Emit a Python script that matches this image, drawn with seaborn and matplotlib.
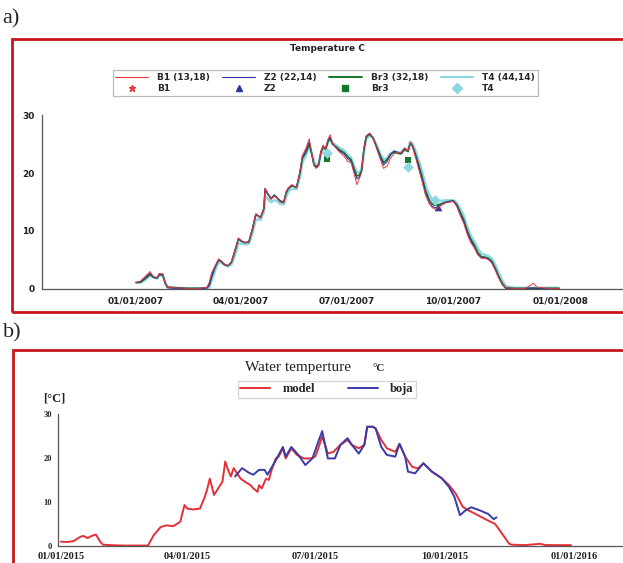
import pandas as pd
import matplotlib
matplotlib.use('Agg')
import matplotlib.pyplot as plt
import matplotlib.dates as mdates
from matplotlib.patches import Rectangle
from matplotlib.lines import Line2D
import seaborn as sns

# panel a) - 2007, day of year from 01/01/2007
days_a = [0, 4, 8, 12, 15, 18, 20, 23, 25, 27,
          35, 45, 55, 61, 63, 65, 68, 71, 73, 76,
          79, 82, 85, 88, 91, 94, 97, 100, 103, 105,
          107, 110, 111, 113, 116, 119, 121, 124, 127, 129,
          131, 134, 138, 141, 143, 146, 149, 151, 153, 155,
          157, 159, 161, 163, 165, 167, 169, 172, 175, 179,
          182, 185, 188, 190, 192, 194, 196, 198, 201, 204,
          207, 210, 213, 216, 219, 222, 225, 228, 231, 234,
          236, 238, 240, 243, 246, 249, 252, 255, 258, 261,
          264, 267, 270, 273, 276, 279, 282, 285, 288, 291,
          294, 297, 300, 303, 306, 309, 312, 315, 318, 325,
          335, 342, 345, 355, 364]

b1 = [1.1, 1.4, 2.2, 3.0, 2.1, 2.0, 2.7, 2.6, 1.0, 0.3,
      0.2, 0.1, 0.1, 0.3, 1.2, 2.8, 4.0, 5.2, 4.9, 4.3,
      4.0, 4.7, 6.6, 8.8, 8.3, 8.0, 8.2, 10.4, 13.0, 12.7,
      12.3, 14.0, 17.4, 16.6, 15.5, 16.0, 15.7, 15.0, 14.8, 16.8,
      17.5, 18.0, 17.5, 20.3, 23.0, 24.2, 25.9, 23.6, 21.3, 20.8,
      21.2, 23.8, 24.8, 24.0, 25.8, 26.6, 25.2, 24.3, 23.6, 22.9,
      22.0, 21.8, 19.6, 18.0, 19.0, 20.0, 24.3, 26.4, 26.9, 26.1,
      24.2, 22.4, 20.8, 21.2, 22.6, 23.3, 23.6, 23.5, 24.2, 23.8,
      25.3, 24.4, 23.0, 20.8, 18.6, 16.2, 14.8, 14.0, 13.7, 14.2,
      14.6, 14.9, 15.0, 15.1, 14.2, 12.6, 11.3, 9.4, 8.0, 7.1,
      5.9, 5.3, 5.3, 5.1, 4.5, 3.3, 1.9, 0.8, 0.2, 0.1,
      0.1, 1.0, 0.3, 0.1, 0.1]

z2 = [1.1, 1.3, 2.0, 2.7, 2.0, 1.9, 2.6, 2.5, 1.0, 0.2,
      0.1, 0.1, 0.1, 0.2, 0.6, 2.0, 3.9, 5.0, 4.8, 4.2,
      4.0, 4.6, 6.6, 8.7, 8.2, 8.0, 8.1, 10.3, 12.9, 12.6,
      12.3, 13.9, 17.3, 16.5, 15.5, 16.1, 15.8, 15.1, 14.9, 16.6,
      17.4, 17.9, 17.5, 20.1, 22.7, 23.8, 25.4, 23.4, 21.4, 20.9,
      21.3, 23.6, 24.7, 24.0, 25.5, 26.2, 25.0, 24.4, 23.8, 23.3,
      22.5, 22.0, 20.0, 19.0, 19.3, 20.2, 24.1, 26.3, 26.8, 26.0,
      24.4, 22.8, 21.4, 22.0, 23.2, 23.8, 23.6, 23.4, 24.3, 23.8,
      25.2, 24.5, 23.3, 21.2, 19.0, 16.6, 15.0, 14.2, 14.0, 14.3,
      14.7, 15.0, 15.1, 15.2, 14.4, 12.9, 11.6, 9.7, 8.3, 7.3,
      6.0, 5.4, 5.4, 5.2, 4.6, 3.4, 2.0, 0.8, 0.1, 0.1,
      0.1, 0.2, 0.1, 0.1, 0.1]

br3 = [1.1, 1.2, 1.8, 2.5, 2.0, 1.9, 2.5, 2.4, 1.0, 0.3,
       0.2, 0.1, 0.1, 0.2, 0.8, 2.2, 3.8, 5.0, 4.8, 4.2,
       4.0, 4.6, 6.5, 8.6, 8.2, 8.0, 8.1, 10.2, 12.8, 12.6,
       12.3, 13.9, 17.2, 16.5, 15.6, 16.2, 15.8, 15.2, 15.0, 16.5,
       17.3, 17.8, 17.5, 20.0, 22.5, 23.5, 25.0, 23.4, 21.5, 21.0,
       21.4, 23.5, 24.6, 24.0, 25.4, 26.0, 25.0, 24.5, 24.0, 23.5,
       22.8, 22.3, 20.5, 19.5, 19.6, 20.4, 24.0, 26.2, 26.7, 26.0,
       24.5, 23.0, 21.8, 22.3, 23.2, 23.6, 23.4, 23.3, 24.0, 23.7,
       25.2, 24.6, 23.5, 21.5, 19.4, 17.0, 15.5, 14.6, 14.4, 14.6,
       14.8, 15.0, 15.1, 15.2, 14.5, 13.2, 11.9, 10.0, 8.6, 7.6,
       6.3, 5.6, 5.5, 5.3, 4.8, 3.6, 2.2, 1.0, 0.2, 0.1,
       0.1, 0.1, 0.1, 0.1, 0.1]

t4 = [1.1, 1.1, 1.6, 2.3, 2.0, 1.8, 2.3, 2.3, 1.2, 0.4,
      0.2, 0.1, 0.1, 0.1, 0.3, 1.4, 3.2, 4.6, 4.6, 4.2,
      3.9, 4.2, 5.8, 7.9, 7.8, 7.7, 7.8, 9.5, 11.9, 12.0,
      11.9, 13.3, 16.0, 15.6, 15.0, 15.3, 15.2, 14.7, 14.6, 15.8,
      16.8, 17.3, 17.2, 19.3, 21.8, 23.0, 24.6, 23.6, 22.0, 21.3,
      21.5, 23.2, 24.3, 24.2, 25.2, 25.8, 25.2, 24.8, 24.3, 23.9,
      23.2, 22.6, 21.0, 20.2, 20.0, 20.6, 23.5, 25.9, 26.5, 26.0,
      24.8, 23.4, 22.3, 22.6, 23.4, 23.7, 23.5, 23.5, 24.2, 24.0,
      25.4, 25.0, 24.0, 22.3, 20.4, 18.0, 16.3, 15.4, 15.0, 15.2,
      15.2, 15.3, 15.3, 15.3, 14.9, 13.8, 12.6, 10.7, 9.2, 8.2,
      7.0, 6.1, 5.9, 5.7, 5.3, 4.2, 2.8, 1.5, 0.5, 0.2,
      0.2, 0.2, 0.2, 0.2, 0.2]

# measured points (markers)
b1_pts_days = [164, 234]
b1_pts = [22.4, 22.3]
z2_pts_days = [260]
z2_pts = [14.2]
br3_pts_days = [164, 234]
br3_pts = [22.4, 22.3]
t4_pts_days = [164, 234, 257]
t4_pts = [23.4, 21.1, 15.3]

# panel b) - 2015, day of year from 01/01/2015
days_model = [0, 4, 9, 14, 16, 19, 22, 25, 28, 30,
              35, 45, 55, 62, 66, 71, 75, 80, 85, 88,
              90, 94, 99, 102, 104, 106, 109, 112, 115, 117,
              119, 121, 123, 126, 128, 131, 135, 137, 140, 141,
              143, 146, 148, 150, 153, 155, 158, 160, 164, 168,
              173, 178, 181, 183, 186, 190, 194, 199, 204, 207,
              212, 216, 218, 222, 224, 228, 232, 238, 241, 245,
              250, 254, 258, 264, 271, 276, 281, 286, 290, 295,
              302, 309, 314, 319, 321, 330, 341, 345, 355, 363]
model = [1.0, 0.9, 1.1, 2.1, 2.3, 1.8, 2.3, 2.6, 1.0, 0.3,
         0.2, 0.1, 0.1, 0.1, 2.4, 4.3, 4.7, 4.5, 5.5, 9.3,
         8.5, 8.3, 8.5, 10.8, 12.7, 15.3, 11.6, 13.1, 14.6, 19.2,
         17.3, 15.8, 17.7, 16.2, 15.3, 14.6, 13.8, 13.1, 12.3, 13.8,
         13.1, 15.3, 15.0, 17.3, 19.9, 20.3, 22.2, 19.9, 22.2, 20.7,
         19.9, 19.9, 20.3, 22.0, 24.9, 21.0, 21.4, 23.0, 24.1, 23.0,
         22.2, 23.0, 27.1, 27.1, 26.7, 24.1, 22.2, 21.4, 23.2, 20.3,
         18.0, 17.6, 18.8, 16.9, 15.4, 13.9, 11.9, 8.9, 8.1, 7.3,
         6.1, 5.0, 2.8, 0.5, 0.3, 0.2, 0.5, 0.2, 0.2, 0.2]

days_boja = [124, 129, 134, 137, 141, 145, 147, 149, 153, 158,
             160, 164, 169, 174, 179, 184, 186, 190, 195, 199,
             204, 207, 212, 216, 218, 222, 224, 228, 232, 238,
             241, 245, 247, 252, 258, 264, 271, 276, 280, 284,
             288, 292, 298, 304, 308, 310]
boja = [15.8, 17.7, 16.6, 16.2, 17.3, 17.3, 16.2, 17.3, 19.5, 22.5,
        20.3, 22.5, 20.7, 18.4, 19.9, 24.4, 26.1, 19.9, 19.9, 23.0,
        24.5, 23.0, 21.0, 23.0, 27.1, 27.1, 26.7, 22.5, 20.7, 20.3,
        23.2, 20.3, 16.9, 16.5, 18.8, 16.9, 15.4, 13.5, 11.2, 7.0,
        8.1, 8.8, 8.1, 7.3, 6.1, 6.5]


def to_dates(start, days):
    return pd.Timestamp(start) + pd.to_timedelta(days, unit='D')


sns.set_style('white')
frame_red = '#c4161c'

fig = plt.figure(figsize=(6.23, 5.63), dpi=100)

# ---------- a) ----------
ax1 = fig.add_axes([0.0674, 0.4867, 0.9326, 0.309])
da = to_dates('2007-01-01', days_a)
sns.lineplot(x=da, y=t4, ax=ax1, color='#8ed6e0', lw=1.8, estimator=None)
sns.lineplot(x=da, y=br3, ax=ax1, color='#16782c', lw=1.2, estimator=None)
sns.lineplot(x=da, y=z2, ax=ax1, color='#2a35a0', lw=0.8, estimator=None)
sns.lineplot(x=da, y=b1, ax=ax1, color='#e8383d', lw=0.7, estimator=None)
sns.scatterplot(x=to_dates('2007-01-01', b1_pts_days), y=b1_pts, ax=ax1,
                marker='*', color='#e8383d', s=25, linewidth=0)
sns.scatterplot(x=to_dates('2007-01-01', z2_pts_days), y=z2_pts, ax=ax1,
                marker='^', color='#2a35a0', s=30, linewidth=0)
sns.scatterplot(x=to_dates('2007-01-01', br3_pts_days), y=br3_pts, ax=ax1,
                marker='s', color='#16782c', s=25, linewidth=0)
sns.scatterplot(x=to_dates('2007-01-01', t4_pts_days), y=t4_pts, ax=ax1,
                marker='D', color='#8ed6e0', s=30, linewidth=0, zorder=5)

ax1.set_xlim(pd.Timestamp('2006-10-12'), pd.Timestamp('2008-02-24'))
ax1.set_ylim(0, 30)
ax1.set_xticks(pd.to_datetime(['2007-01-01', '2007-04-01', '2007-07-01',
                               '2007-10-01', '2008-01-01']))
ax1.xaxis.set_major_formatter(mdates.DateFormatter('%m/%d/%Y'))
ax1.set_yticks([0, 10, 20, 30])
ax1.set_yticks([5, 15, 25], minor=True)
ax1.set_xlabel('')
ax1.set_ylabel('')
sns.despine(ax=ax1)
for s in ['left', 'bottom']:
    ax1.spines[s].set_color('#555555')
    ax1.spines[s].set_linewidth(0.9)
ax1.tick_params(which='both', direction='inout', length=3, width=0.8,
                color='#555555', labelsize=6.5, pad=4)
for lab in ax1.get_xticklabels() + ax1.get_yticklabels():
    lab.set_fontweight('bold')
    lab.set_color('#222222')

fig.text(0.525, 0.913, 'Temperature C', ha='center', va='center',
         fontsize=6.5, fontweight='bold', color='#222222')

handles = [
    Line2D([], [], color='#e8383d', lw=0.8),
    Line2D([], [], color='#e8383d', marker='*', ls='none', ms=5),
    Line2D([], [], color='#2a35a0', lw=0.8),
    Line2D([], [], color='#2a35a0', marker='^', ls='none', ms=5),
    Line2D([], [], color='#16782c', lw=1.4),
    Line2D([], [], color='#16782c', marker='s', ls='none', ms=4.5),
    Line2D([], [], color='#8ed6e0', lw=1.6),
    Line2D([], [], color='#8ed6e0', marker='D', ls='none', ms=5),
]
labels = ['B1 (13,18)', 'B1', 'Z2 (22,14)', 'Z2',
          'Br3 (32,18)', 'Br3', 'T4 (44,14)', 'T4']
leg1 = fig.legend(handles, labels, ncol=4, loc='center',
                  bbox_to_anchor=(0.522, 0.8526), frameon=True, fancybox=False,
                  prop={'size': 6.5, 'weight': 'bold'}, handlelength=3.6,
                  columnspacing=1.4, handletextpad=1.0, labelspacing=0.2,
                  borderpad=0.3)
leg1.get_frame().set_edgecolor('#aaaaaa')
leg1.get_frame().set_linewidth(0.9)

fig.add_artist(Rectangle((0.0193, 0.4458), 1.0, 0.4849, transform=fig.transFigure,
                         fill=False, edgecolor=frame_red, lw=2.0, clip_on=False))
fig.text(0.004, 0.966, 'a)', fontsize=16, family='Liberation Serif',
         ha='left', va='center')

# ---------- b) ----------
ax2 = fig.add_axes([0.0931, 0.0302, 0.9069, 0.2345])
sns.lineplot(x=to_dates('2015-01-01', days_model), y=model, ax=ax2,
             color='#e33036', lw=1.4, estimator=None)
sns.lineplot(x=to_dates('2015-01-01', days_boja), y=boja, ax=ax2,
             color='#3b3ba8', lw=1.4, estimator=None)
ax2.set_xlim(pd.Timestamp('2014-12-30'), pd.Timestamp('2016-02-05'))
ax2.set_ylim(0, 30)
ax2.set_xticks(pd.to_datetime(['2015-01-01', '2015-04-01', '2015-07-01',
                               '2015-10-01', '2016-01-01']))
ax2.xaxis.set_major_formatter(mdates.DateFormatter('%m/%d/%Y'))
ax2.set_yticks([0, 10, 20, 30])
ax2.set_yticks([5, 15, 25], minor=True)
ax2.set_xlabel('')
ax2.set_ylabel('')
sns.despine(ax=ax2)
for s in ['left', 'bottom']:
    ax2.spines[s].set_color('#555555')
    ax2.spines[s].set_linewidth(0.9)
ax2.tick_params(which='both', direction='inout', length=3, width=0.8,
                color='#555555', pad=3)
ax2.tick_params(axis='x', labelsize=7.5)
ax2.tick_params(axis='y', labelsize=6)
for lab in ax2.get_xticklabels() + ax2.get_yticklabels():
    lab.set_fontweight('bold')
    lab.set_family('Liberation Serif')
    lab.set_color('#222222')

fig.text(0.393, 0.348, 'Water temperture', ha='left', va='center',
         fontsize=11, family='Liberation Serif', color='#222222')
fig.text(0.598, 0.346, '°C', ha='left', va='center', fontsize=8,
         fontweight='bold', family='Liberation Serif', color='#222222')
fig.text(0.069, 0.293, '[°C]', ha='left', va='center', fontsize=9,
         fontweight='bold', family='Liberation Serif', color='#222222')

leg2 = fig.legend([Line2D([], [], color='#e33036', lw=1.4),
                   Line2D([], [], color='#3b3ba8', lw=1.4)],
                  ['model', 'boja'], ncol=2, loc='center',
                  bbox_to_anchor=(0.525, 0.3082), frameon=True, fancybox=False,
                  prop={'size': 9, 'weight': 'bold', 'family': 'Liberation Serif'},
                  handlelength=2.4, columnspacing=2.6, handletextpad=1.0,
                  borderpad=0.2)
leg2.get_frame().set_edgecolor('#cccccc')
leg2.get_frame().set_linewidth(1.0)

fig.add_artist(Rectangle((0.0209, -0.05), 1.0, 0.4283, transform=fig.transFigure,
                         fill=False, edgecolor=frame_red, lw=2.0, clip_on=False))
fig.text(0.004, 0.408, 'b)', fontsize=16, family='Liberation Serif',
         ha='left', va='center')

fig.savefig('out.png', dpi=100)
